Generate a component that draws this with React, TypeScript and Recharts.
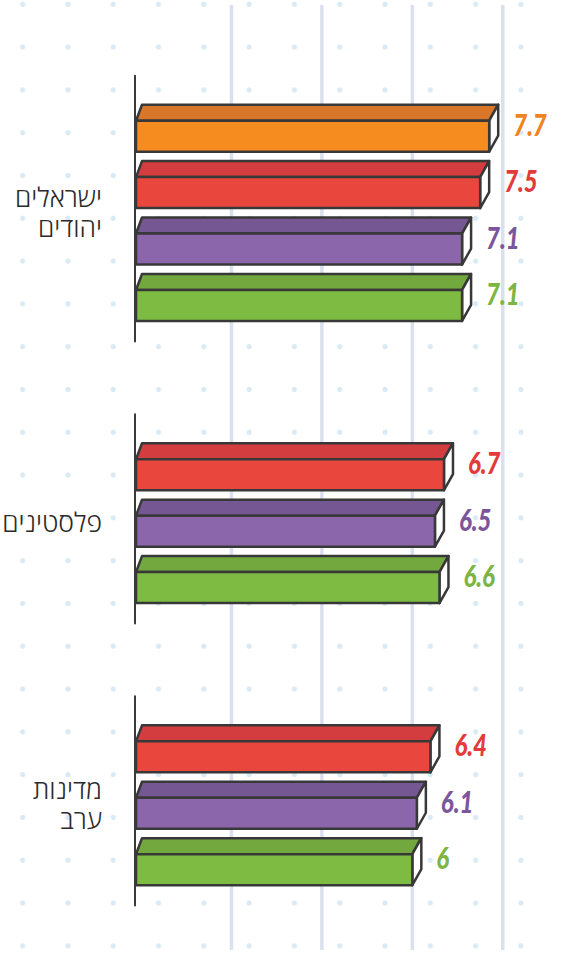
import React from 'react';
import { BarChart, Bar, XAxis, YAxis, CartesianGrid, Cell, LabelList } from 'recharts';

const groupNames = [['ישראלים', 'יהודים'], ['פלסטינים'], ['מדינות', 'ערב']];
const jewishValues = [7.7, 7.5, 7.1, 7.1];
const palestinianValues = [6.7, 6.5, 6.6];
const arabValues = [6.4, 6.1, 6];
const jewishSeries = ['orange', 'red', 'purple', 'green'];
const otherSeries = ['red', 'purple', 'green'];
const gridTicks = [2, 4, 6, 8];

const palette: Record<string, { front: string; top: string; text: string }> = {
  orange: { front: '#f68b1f', top: '#d8762a', text: '#f0841f' },
  red: { front: '#e9473d', top: '#d43d3f', text: '#e23b3a' },
  purple: { front: '#8c66aa', top: '#755794', text: '#7b569b' },
  green: { front: '#7dbb42', top: '#73a83f', text: '#7db543' },
};

const W = 561;
const H = 954;
const MARGIN = { top: 5, right: 13, bottom: 4, left: 0 };
const PAD = { top: 94.7, bottom: 60.4 };
const SPACERS = 2;
const LINE_GAP = 30;

type Row = { id: string; value: number | null; series: string; group: number; first: boolean; size: number };

const groups = [
  { values: jewishValues, series: jewishSeries },
  { values: palestinianValues, series: otherSeries },
  { values: arabValues, series: otherSeries },
];

const rows: Row[] = [];
groups.forEach((g, gi) => {
  if (gi > 0) {
    for (let s = 0; s < SPACERS; s++) {
      rows.push({ id: `gap${gi}-${s}`, value: null, series: '', group: -1, first: false, size: 0 });
    }
  }
  g.values.forEach((v, i) => {
    rows.push({ id: `g${gi}-${i}`, value: v, series: g.series[i], group: gi, first: i === 0, size: g.values.length });
  });
});

const PITCH = (H - MARGIN.top - MARGIN.bottom - PAD.top - PAD.bottom) / rows.length;

const GroupTick = (props: any) => {
  const { x, y, payload } = props;
  const row = rows[payload.index];
  if (!row || !row.first) return null;
  const names = groupNames[row.group];
  const center = y + ((row.size - 1) / 2) * PITCH;
  const axisTop = y - PITCH / 2 - 24;
  const axisBottom = y + (row.size - 1) * PITCH + PITCH / 2 + 16;
  const tx = x - 39;
  return (
    <g>
      <line x1={x - 6} x2={x - 6} y1={axisTop} y2={axisBottom} stroke="#3a3a3a" strokeWidth={2} strokeLinecap="round" />
      <text
        x={tx}
        y={center - ((names.length - 1) / 2) * LINE_GAP + 9}
        textAnchor="end"
        fontFamily="'Open Sans', 'Liberation Sans', sans-serif"
        fontWeight={300}
        fontSize={26.5}
        fill="#2b2b2b"
      >
        {names.map((n, i) => (
          <tspan key={n} x={tx} dy={i === 0 ? 0 : LINE_GAP}>
            {n}
          </tspan>
        ))}
      </text>
    </g>
  );
};

const Bar3D = (props: any) => {
  const { x, y, width, height, payload } = props;
  if (!payload || payload.value == null || !palette[payload.series]) return null;
  const c = palette[payload.series];
  const d = 16;
  const s = 9;
  const left = x - 5;
  const right = x + width;
  const mid = y + d;
  const bottom = y + height;
  return (
    <g stroke="#383838" strokeWidth={2.5} strokeLinejoin="round">
      <polygon points={`${left},${mid} ${left + 6},${y} ${right + s},${y} ${right},${mid}`} fill={c.top} />
      <polygon points={`${right},${mid} ${right + s},${y} ${right + s},${bottom - d} ${right},${bottom}`} fill="#fff" />
      <rect x={left} y={mid} width={right - left} height={height - d} fill={c.front} />
    </g>
  );
};

const ValueLabel = (props: any) => {
  const { x, y, width, value, index } = props;
  if (value == null || x == null) return null;
  const row = rows.find((r, i) => i === index && r.value === value) || rows.find((r) => r.value === value);
  const color = row && palette[row.series] ? palette[row.series].text : '#333';
  return (
    <text
      transform={`translate(${x + width + 24}, ${y + 31}) scale(0.8, 1)`}
      fontFamily="Lato, 'DejaVu Sans', sans-serif"
      fontWeight={900}
      fontStyle="italic"
      fontSize={30}
      fill={color}
    >
      {value}
    </text>
  );
};

export default function App() {
  return (
    <div
      style={{
        position: 'absolute',
        left: 0,
        top: 0,
        width: W,
        height: H,
        background: '#fff',
        backgroundImage: 'radial-gradient(circle, #d9eaf4 2.3px, transparent 2.9px)',
        backgroundSize: '45.3px 42.8px',
        backgroundPosition: '0px -17.1px',
      }}
    >
      <BarChart width={W} height={H} data={rows} layout="vertical" margin={MARGIN}>
        <CartesianGrid horizontal={false} verticalValues={gridTicks} stroke="#dae0ee" strokeWidth={3.5} />
        <XAxis type="number" domain={[0, 9]} ticks={gridTicks} hide />
        <YAxis
          type="category"
          dataKey="id"
          width={141}
          interval={0}
          axisLine={false}
          tickLine={false}
          tickSize={0}
          tickMargin={0}
          padding={PAD}
          tick={<GroupTick />}
        />
        <Bar dataKey="value" barSize={47} shape={<Bar3D />} isAnimationActive={false}>
          {rows.map((r) => (
            <Cell key={r.id} fill={r.series ? palette[r.series].front : 'none'} />
          ))}
          <LabelList dataKey="value" content={<ValueLabel />} />
        </Bar>
      </BarChart>
    </div>
  );
}
